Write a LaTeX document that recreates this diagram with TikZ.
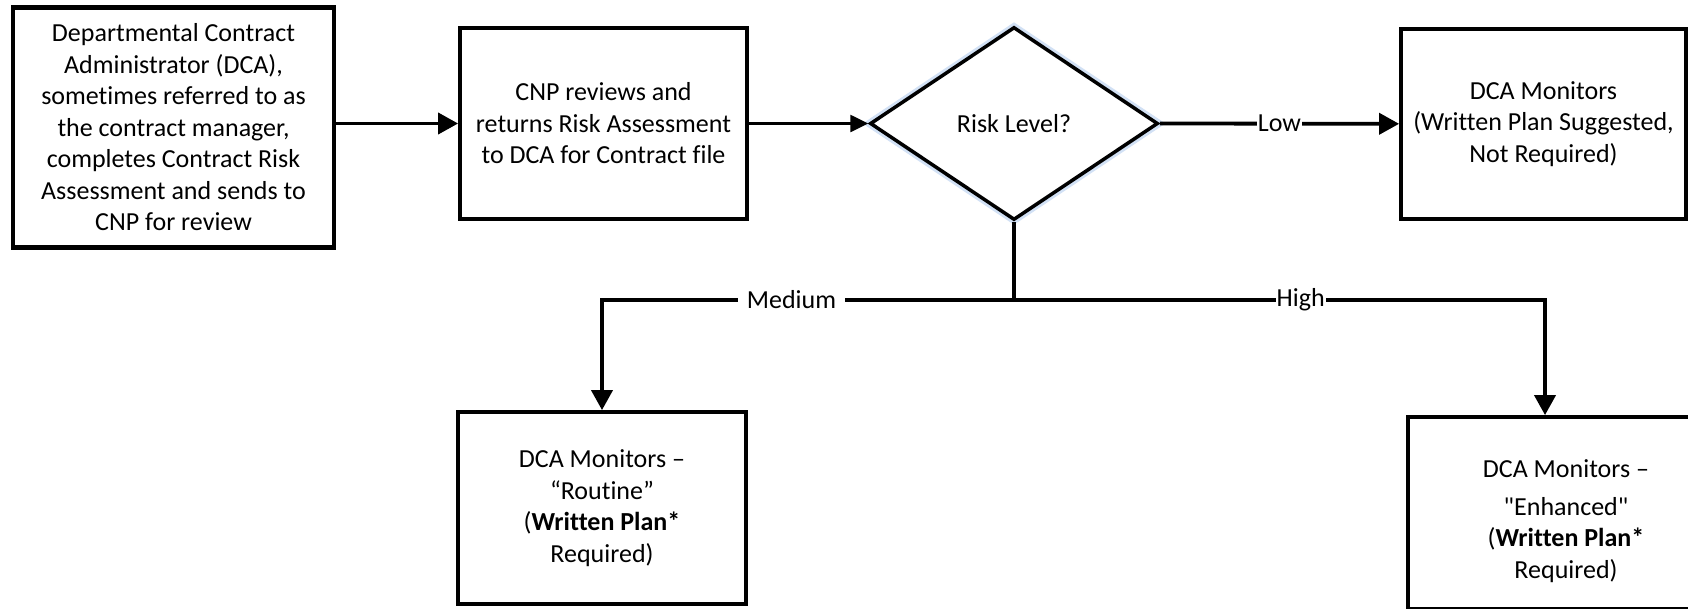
\documentclass[tikz,border=0pt]{standalone}
\usepackage{fontspec}
\setmainfont{Carlito}[Ligatures={TeXOff,NoCommon}]
\usetikzlibrary{arrows.meta,shapes.geometric}
\definecolor{glowblue}{RGB}{210,225,245}
\begin{document}
\begin{tikzpicture}[x=1pt,y=-1pt,
  every node/.style={font=\fontsize{26}{31.5}\selectfont, text=black},
  box/.style={draw=black, line width=3.8pt, fill=white, align=center, inner sep=0pt},
  decision/.style={draw=black, diamond, line width=3.5pt, fill=white, inner sep=0pt,
    preaction={draw=glowblue, line width=9pt}},
  conn/.style={line width=3.8pt, -{Triangle[length=20pt,width=21pt]}},
  thin conn/.style={line width=2.6pt, -{Triangle[length=18pt,width=17pt]}},
  lbl/.style={fill=white, inner sep=1pt},
]
\useasboundingbox (0,0) rectangle (1688,608);
\fill[white] (0,0) rectangle (1688,608);

\node[box, line width=4.8pt, minimum width=321pt, minimum height=240pt] (dca) at (173.5,127.5)
  {Departmental Contract\\ Administrator (DCA),\\ sometimes referred to as\\ the contract manager,\\ completes Contract Risk\\ Assessment and sends to\\ CNP for review};

\node[box, minimum width=287pt, minimum height=191pt] (cnp) at (603.5,123.5)
  {CNP reviews and\\ returns Risk Assessment\\ to DCA for Contract file};

\node[decision, minimum width=288pt, minimum height=193pt] (risk) at (1014,123.5) {Risk Level?};

\node[box, minimum width=285pt, minimum height=190pt] (low) at (1543.5,124)
  {DCA Monitors\\ (Written Plan Suggested,\\ Not Required)};

\node[box, minimum width=288pt, minimum height=192pt] (med) at (602,508)
  {DCA Monitors –\\ “Routine”\\ (\textbf{Written Plan*}\\ Required)};

\node[box, minimum width=316pt, minimum height=192pt] (high) at (1566,513) {};
\node[align=center, inner sep=0pt] (hightext) at (1566,521)
  {DCA Monitors –\\[6pt] "Enhanced"\\ (\textbf{Written Plan*}\\ Required)};

\coordinate (j) at (1014,300);
\path (high.north) ++(-21,0) coordinate (hn);

\draw[conn] (dca.east |- cnp.west) -- (cnp.west);
\draw[thin conn] (cnp) -- (risk.west);
\draw[conn] (risk.east) -- node[lbl]{Low} (low);
\draw[line width=3.8pt] (risk.south) -- (j);
\draw[conn] (j) -| node[pos=0.27, fill=white, inner xsep=9pt, inner ysep=1pt]{Medium} (med.north);
\draw[conn] (j) -| node[pos=0.27, lbl]{High} (hn);
\end{tikzpicture}
\end{document}
